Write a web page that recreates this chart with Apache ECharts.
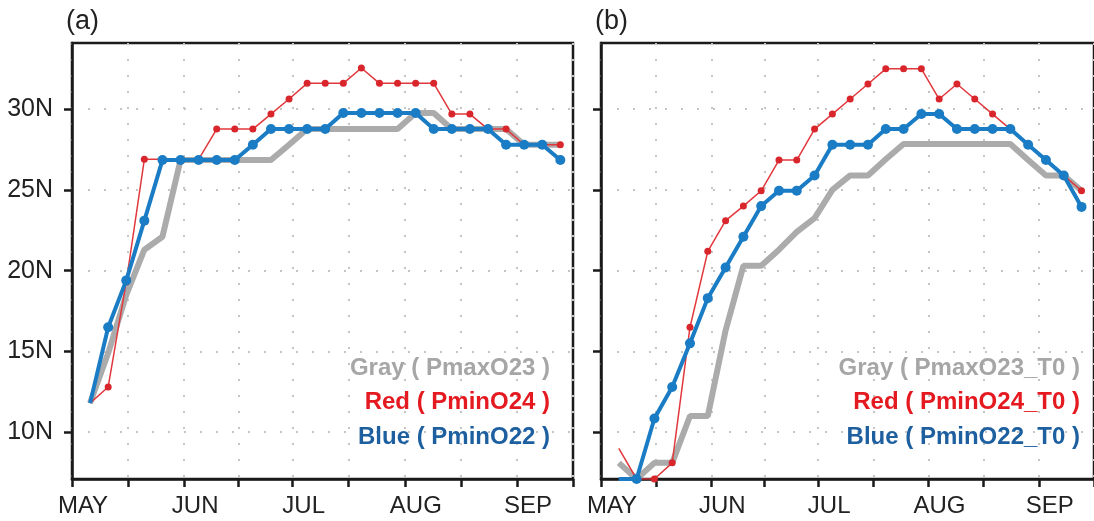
<!DOCTYPE html>
<html>
<head>
<meta charset="utf-8">
<title>Rain belt latitude</title>
<script src="https://cdn.jsdelivr.net/npm/echarts@6/dist/echarts.min.js"></script>
<style>
  html, body { margin: 0; background: #fff; }
  #chart { width: 1094px; height: 521px; }
</style>
</head>
<body>
<div id="chart"></div>
<script>
// x = day counted from 1 May (pentad ends)
const days = [5, 10, 15, 20, 25, 30, 35, 40, 45, 50, 55, 60, 65, 70, 75, 80, 85, 90, 95, 100, 105, 110, 115, 120, 125, 130, 135];
const monthDays = [0, 31, 61, 92, 123];
const monthNames = ["MAY", "JUN", "JUL", "AUG", "SEP"];
const tickDays = [0, 15.5, 31, 46, 61, 76.5, 92, 107.5, 123, 138.5];
const latTicks = [10, 15, 20, 25, 30];

// panel (a)
const grayA = [11.8, 14.9, 18.5, 21.3, 22.1, 26.85, 26.85, 26.85, 26.85, 26.85, 26.85, 27.8, 28.77, 28.77, 28.77, 28.77, 28.77, 28.77, 29.76, 29.76, 28.77, 28.77, 28.77, 28.77, 27.8, 27.8, 27.8];
const redA = [11.8, 12.8, 19.3, 26.9, 26.9, 26.9, 26.9, 28.77, 28.77, 28.77, 29.7, 30.63, 31.6, 31.6, 31.6, 32.55, 31.6, 31.6, 31.6, 31.6, 29.7, 29.7, 28.77, 28.77, 27.8, 27.8, 27.8];
const blueA = [11.8, 16.5, 19.4, 23.1, 26.85, 26.85, 26.85, 26.85, 26.85, 27.8, 28.77, 28.77, 28.77, 28.77, 29.76, 29.76, 29.76, 29.76, 29.76, 28.77, 28.77, 28.77, 28.77, 27.8, 27.8, 27.8, 26.85];

// panel (b)
const grayB = [8.1, 7.1, 8.1, 8.1, 11.0, 11.0, 16.3, 20.3, 20.3, 21.3, 22.4, 23.25, 25.0, 25.9, 25.9, 26.9, 27.85, 27.85, 27.85, 27.85, 27.85, 27.85, 27.85, 26.85, 25.9, 25.9, 24.95];
const redB = [9.0, 7.1, 7.1, 8.1, 16.5, 21.2, 23.1, 24.0, 24.95, 26.85, 26.85, 28.77, 29.7, 30.63, 31.56, 32.5, 32.5, 32.5, 30.63, 31.56, 30.63, 29.7, 28.77, 27.8, 26.85, 25.9, 24.95];
const blueB = [7.1, 7.1, 10.85, 12.8, 15.5, 18.3, 20.2, 22.1, 24.0, 24.95, 24.95, 25.9, 27.8, 27.8, 27.8, 28.77, 28.77, 29.7, 29.7, 28.77, 28.77, 28.77, 28.77, 27.8, 26.85, 25.9, 23.95];

const legendA = ["Gray ( PmaxO23 )", "Red ( PminO24 )", "Blue ( PminO22 )"];
const legendB = ["Gray ( PmaxO23_T0 )", "Red ( PminO24_T0 )", "Blue ( PminO22_T0 )"];

const FONT = "Liberation Sans";
const INK = "#1a1a1a";

function toPoints(vals) {
  // first point of every curve is drawn without a marker
  return vals.map(function (v, i) {
    return i === 0 ? { value: [days[i], v], symbol: "none" } : [days[i], v];
  });
}

function xAxis(idx) {
  return {
    type: "value",
    gridIndex: idx,
    min: 0,
    max: 138.5,
    axisLine: { onZero: false, lineStyle: { color: INK, width: 2.5 } },
    axisTick: { length: 8, lineStyle: { color: INK, width: 2.5 }, customValues: tickDays },
    axisLabel: {
      customValues: monthDays,
      formatter: function (v) { return monthNames[monthDays.indexOf(v)]; },
      fontFamily: FONT, fontSize: 24, color: "#222", margin: 15,
      padding: [0, 0, 0, 22]
    },
    splitLine: { show: true, lineStyle: { type: [2, 14], color: "#c4c4c4", width: 2 } }
  };
}

function yAxis(idx, showLabel) {
  return {
    type: "value",
    gridIndex: idx,
    min: 7.1,
    max: 34.1,
    axisLine: { onZero: false, lineStyle: { color: INK, width: 2.5 } },
    axisTick: { length: 8, lineStyle: { color: INK, width: 2.5 }, customValues: latTicks },
    axisLabel: {
      show: showLabel,
      customValues: latTicks,
      formatter: function (v) { return v + "N"; },
      fontFamily: FONT, fontSize: 25, color: "#222", margin: 19
    },
    splitLine: { show: true, lineStyle: { type: [2, 14], color: "#c4c4c4", width: 2 } }
  };
}

function curves(idx, gray, red, blue) {
  return [
    {
      type: "line", xAxisIndex: idx, yAxisIndex: idx, data: toPoints(gray),
      showSymbol: false, symbol: "none", z: 2,
      lineStyle: { color: "#ababab", width: 6 }
    },
    {
      type: "line", xAxisIndex: idx, yAxisIndex: idx, data: toPoints(red),
      symbol: "circle", symbolSize: 7, z: 3,
      lineStyle: { color: "#e2373c", width: 1.5 },
      itemStyle: { color: "#d8262c" }
    },
    {
      type: "line", xAxisIndex: idx, yAxisIndex: idx, data: toPoints(blue),
      symbol: "circle", symbolSize: 10, z: 4,
      lineStyle: { color: "#1a7cc4", width: 4 },
      itemStyle: { color: "#1a7cc4" }
    }
  ];
}

function legendText(rightX, lines) {
  const colors = ["#a6a6a6", "#e51a20", "#1d5f9f"];
  const ys = [368, 402, 437];
  return lines.map(function (t, i) {
    return {
      type: "text", x: rightX, y: ys[i], z: 10,
      style: {
        text: t, fill: colors[i], font: "bold 24px '" + FONT + "'",
        textAlign: "right", textVerticalAlign: "middle"
      }
    };
  });
}

var chart = echarts.init(document.getElementById("chart"));
var option = {
  animation: false,
  backgroundColor: "#fff",
  grid: [
    { left: 72, top: 43, width: 501, height: 436, show: true, borderColor: INK, borderWidth: 2.5 },
    { left: 601, top: 43, width: 501, height: 436, show: true, borderColor: INK, borderWidth: 2.5 }
  ],
  xAxis: [xAxis(0), xAxis(1)],
  yAxis: [yAxis(0, true), yAxis(1, false)],
  series: curves(0, grayA, redA, blueA).concat(curves(1, grayB, redB, blueB)),
  graphic: [
    { type: "text", x: 66, y: 8, style: { text: "(a)", fill: "#222", font: "27px '" + FONT + "'" } },
    { type: "text", x: 595, y: 8, style: { text: "(b)", fill: "#222", font: "27px '" + FONT + "'" } }
  ].concat(legendText(550, legendA), legendText(1080, legendB))
};
chart.setOption(option);
</script>
</body>
</html>
